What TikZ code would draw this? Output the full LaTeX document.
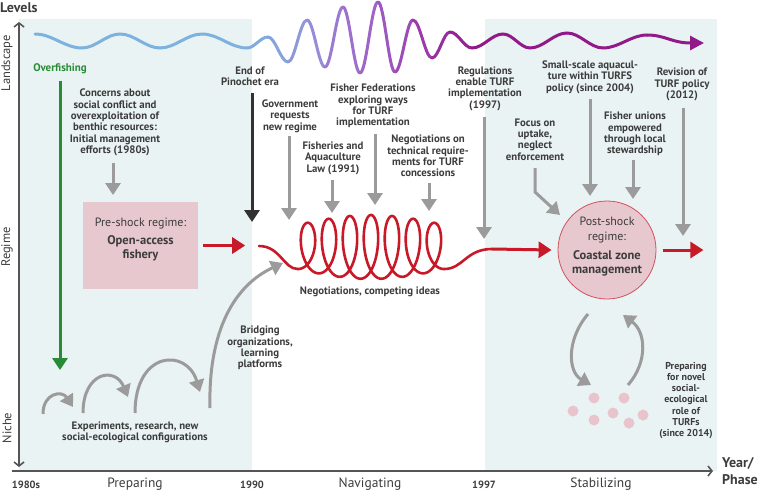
\documentclass[tikz,border=0pt]{standalone}
\usepackage{fontspec}
\setmainfont{PT Sans}
\usetikzlibrary{arrows.meta}
\definecolor{panel}{RGB}{234,243,243}
\definecolor{txt}{RGB}{60,60,60}
\definecolor{axisgray}{RGB}{85,85,85}
\definecolor{arrgray}{RGB}{155,155,155}
\definecolor{fishgreen}{RGB}{40,140,55}
\definecolor{regred}{RGB}{200,25,40}
\definecolor{pinkfill}{RGB}{231,200,206}
\definecolor{circline}{RGB}{210,80,95}
\definecolor{dotpink}{RGB}{233,196,204}
\definecolor{darkarr}{RGB}{50,50,50}
\definecolor{wvA}{RGB}{125,178,222}
\definecolor{wvB}{RGB}{150,140,215}
\definecolor{wvC}{RGB}{158,100,200}
\definecolor{wvD}{RGB}{155,60,170}
\definecolor{wvE}{RGB}{145,25,138}
\begin{document}
\begin{tikzpicture}[x=1pt,y=-1pt,
  lbl/.style={font=\bfseries\fontsize{10.8}{11.4}\selectfont, text=txt, align=center, inner sep=0pt},
  smalllbl/.style={font=\bfseries\fontsize{10}{11.2}\selectfont, text=txt, align=center, inner sep=0pt},
  axlbl/.style={font=\fontsize{12.5}{13}\selectfont, text=txt, inner sep=0pt},
  yearlbl/.style={font=\bfseries\fontsize{10.5}{12}\selectfont, text=txt, inner sep=0pt},
  phaselbl/.style={font=\fontsize{13.5}{14}\selectfont, text=txt, inner sep=0pt},
  reglbl/.style={font=\fontsize{12}{15}\selectfont, text=txt, align=center, inner sep=0pt},
  regbold/.style={font=\bfseries\fontsize{12.5}{13.8}\selectfont, text=txt, align=center, inner sep=0pt},
  grayarrow/.style={draw=arrgray, line width=3pt, -{Triangle[length=12pt,width=15pt]}},
  darkarrow/.style={draw=darkarr, line width=3pt, -{Triangle[length=12pt,width=15pt]}},
  greenarrow/.style={draw=fishgreen, line width=3pt, -{Triangle[length=12pt,width=15pt]}},
  redarrow/.style={draw=regred, line width=3pt, -{Triangle[length=13pt,width=16pt]}},
  redline/.style={draw=regred, line width=2.6pt, line cap=round},
  wave/.style={line width=3pt, line cap=round},
  axisline/.style={draw=axisgray, line width=1.6pt},
  dot/.style={fill=dotpink, draw=none, circle, minimum size=11pt, inner sep=0pt}
]
\useasboundingbox (0,0) rectangle (762,492);
% panels
\fill[panel] (19,19) rectangle (252,471);
\fill[panel] (485,19) rectangle (717,471);

% axes
\draw[axisline, {Straight Barb[length=4pt,width=10pt]}-{Straight Barb[length=4pt,width=10pt]}] (19,467) -- (19,22);
\draw[axisline, -{Straight Barb[length=4pt,width=10pt]}] (12,471) -- (713,471);

\node[font=\bfseries\fontsize{14}{14}\selectfont, text=txt, anchor=west, inner sep=0pt] (levels) at (0,8) {Levels};
\node[axlbl, rotate=90] (landscape) at (7,63) {Landscape};
\node[axlbl, rotate=90] (regimeax) at (7,247) {Regime};
\node[axlbl, rotate=90] (nicheax) at (7,428) {Niche};
\node[font=\bfseries\fontsize{14}{17}\selectfont, text=txt, anchor=west, align=left, inner sep=0pt] (yearphase) at (722,471) {Year/\\Phase};

\node[yearlbl] (y1980) at (26,485) {1980s};
\node[phaselbl] (prep) at (135,484) {Preparing};
\node[yearlbl] (y1990) at (252,485) {1990};
\node[phaselbl] (navi) at (370,484) {Navigating};
\node[yearlbl] (y1997) at (484,485) {1997};
\node[phaselbl] (stab) at (601,484) {Stabilizing};

% landscape wave
\foreach \xa/\ya/\xb/\yb/\cc in {
  35/34/82/48/wvA, 82/48/120/34/wvA, 120/34/160/48/wvA, 160/48/202/34/wvA,
  202/34/247/48/wvA, 247/48/268/37/wvA!85!wvB, 268/37/288/62/wvA!60!wvB,
  288/62/307/20/wvA!35!wvB, 307/20/325/67/wvB, 325/67/343/7/wvB!60!wvC,
  343/7/360/73/wvB!30!wvC, 360/73/378/2/wvC, 378/2/395/72/wvC!70!wvD,
  395/72/413/20/wvC!40!wvD, 413/20/432/58/wvD, 432/58/450/32/wvD!60!wvE,
  450/32/472/48/wvD!30!wvE, 472/48/503/34/wvE, 503/34/530/48/wvE,
  530/48/567/33/wvE, 567/33/603/48/wvE, 603/48/647/35/wvE} {
  \pgfmathsetmacro\dd{0.364*(\xb-\xa)}
  \draw[wave, draw=\cc] (\xa,\ya) .. controls ({\xa+\dd},\ya) and ({\xb-\dd},\yb) .. (\xb,\yb);
}
\draw[wave, draw=wvE, -{Triangle[length=14pt,width=14pt]}] (647,35) .. controls (665,35) and (672,43) .. (704,43);

% landscape labels
\node[font=\bfseries\fontsize{11}{12}\selectfont, text=fishgreen, inner sep=0pt] (overfish) at (60,69) {Overfishing};
\node[lbl] (concerns) at (115,122.5) {Concerns about\\social conflict and\\overexploitation of\\benthic resources:\\Initial management\\efforts (1980s)};
\node[lbl] (pinochet) at (250,76) {End of\\Pinochet era};
\node[lbl] (gov) at (290,116) {Government\\requests\\new regime};
\node[lbl] (falaw) at (333,158) {Fisheries and\\Aquaculture\\Law (1991)};
\node[lbl] (fedfish) at (373,106) {Fisher Federations\\exploring ways\\for TURF\\implementation};
\node[lbl] (negot) at (428,156) {Negotiations on\\technical require-\\ments for TURF\\concessions};
\node[lbl] (regul) at (485,88.5) {Regulations\\enable TURF\\implementation\\(1997)};
\node[lbl] (smallsc) at (590,77) {Small-scale aquacul-\\ture within TURFS\\policy (since 2004)};
\node[lbl] (focus) at (535,139.5) {Focus on\\uptake,\\neglect\\enforcement};
\node[lbl] (unions) at (635,134) {Fisher unions\\empowered\\through local\\stewardship};
\node[lbl] (revis) at (682,84.5) {Revision of\\TURF policy\\(2012)};

% regime nodes
\node[fill=pinkfill, draw=none, minimum width=115pt, minimum height=87pt, inner sep=0pt] (preshock) at (140.5,245.5) {};
\node[reglbl] (pretop) at (140.5,224) {Pre-shock regime:};
\node[regbold] (prebold) at (140.5,248) {Open-access\\fishery};
\node[circle, fill=pinkfill, draw=circline, line width=0.8pt, minimum size=98pt, inner sep=0pt] (post) at (607,250) {};
\node[reglbl] (posttop) at (607,230.5) {Post-shock\\regime:};
\node[regbold] (postbold) at (607,263.5) {Coastal zone\\management};

% arrow coordinates
\coordinate (gfs) at (60,81);   \coordinate (gft) at (60,370);
\coordinate (cos1) at (113,163); \coordinate (cot) at (113,195);
\coordinate (pis) at (252,93);  \coordinate (pit) at (252,222);
\coordinate (gos) at (289,136); \coordinate (got) at (289,220);
\coordinate (fls) at (332,180); \coordinate (flt) at (332,213);
\coordinate (ffs) at (375,134); \coordinate (fft) at (375,205);
\coordinate (ngs) at (429,183); \coordinate (ngt) at (429,211);
\coordinate (res) at (484,117); \coordinate (ret) at (484,239);
\coordinate (sss) at (590,99);  \coordinate (sst) at (590,196);
\coordinate (fus) at (633,160); \coordinate (fut) at (633,199);
\coordinate (rvs) at (683,108); \coordinate (rvt) at (683,236);
\coordinate (fcs) at (535,168); \coordinate (fcb) at (535,192); \coordinate (fct) at (560,215);

\draw[greenarrow] (gfs) -- (gft);
\draw[grayarrow] (cos1) -- (cot);
\draw[darkarrow] (pis) -- (pit);
\draw[grayarrow] (gos) -- (got);
\draw[grayarrow] (fls) -- (flt);
\draw[grayarrow] (ffs) -- (fft);
\draw[grayarrow] (ngs) -- (ngt);
\draw[grayarrow] (res) -- (ret);
\draw[grayarrow] (sss) -- (sst);
\draw[grayarrow] (fus) -- (fut);
\draw[grayarrow] (rvs) -- (rvt);
\draw[grayarrow] (fcs) -- (fcb) -- (fct);

% red regime path
\draw[redarrow] ([xshift=5pt]preshock.east) -- ++(42,0);
\coordinate (rstart) at (259,246);
\coordinate (cstart) at (297.5,269);
\draw[redline] (rstart) .. controls (280,246) and (284,269) .. (cstart);
\draw[redline] plot[domain=-1.5708:42.4115, samples=700, variable=\t, smooth] ({297.5+3.34*(\t+1.5708)+12*cos(\t r)}, {247-(22+10*sin(180*(\t+1.5708)/43.9823))*sin(\t r)});
\coordinate (cend) at (444.4,269);
\coordinate (rmid) at (492,249);
\draw[redline] (cend) .. controls (463,269) and (466,249) .. (rmid);
\draw[redarrow] (rmid) -- ([xshift=-6pt]post.west);
\draw[redarrow] ([xshift=7pt]post.east) -- ++(40,0);
\node[lbl] (negcomp) at (370,292) {Negotiations, competing ideas};

% niche
\coordinate (a1s) at (43,414);  \coordinate (a1t) at (73,407);
\coordinate (a2s) at (83,413);  \coordinate (a2t) at (128,397);
\coordinate (a3s) at (135,413); \coordinate (a3t) at (200,392);
\coordinate (brs) at (210,408); \coordinate (brt) at (283,263);
\draw[grayarrow] (a1s) .. controls (43,393) and (62,390) .. (a1t);
\draw[grayarrow] (a2s) .. controls (83,372) and (115,366) .. (a2t);
\draw[grayarrow] (a3s) .. controls (135,350) and (187,348) .. (a3t);
\draw[grayarrow] (brs) .. controls (208,330) and (235,285) .. (brt);
\node[lbl] (exper) at (135,432.5) {Experiments, research, new\\social-ecological configurations};
\node[lbl] (bridg) at (260,348) {Bridging\\organizations,\\learning\\platforms};

% post-shock cycle
\coordinate (cls) at (588,314); \coordinate (clt) at (591,385);
\coordinate (crs) at (628,385); \coordinate (crt) at (623,315);
\draw[grayarrow] (cls) .. controls (566,340) and (568,372) .. (clt);
\draw[grayarrow] (crs) .. controls (648,362) and (646,332) .. (crt);
\node[dot] (d1) at (594,398) {};
\node[dot] (d2) at (624,398) {};
\node[dot] (d3) at (573,411) {};
\node[dot] (d4) at (613,413) {};
\node[dot] (d5) at (643,415) {};
\node[dot] (d6) at (594,420) {};
\node[dot] (d7) at (629,423) {};
\node[smalllbl] (novel) at (686,400.5) {Preparing\\for novel\\social-\\ecological\\role of\\TURFs\\(since 2014)};
\end{tikzpicture}
\end{document}
